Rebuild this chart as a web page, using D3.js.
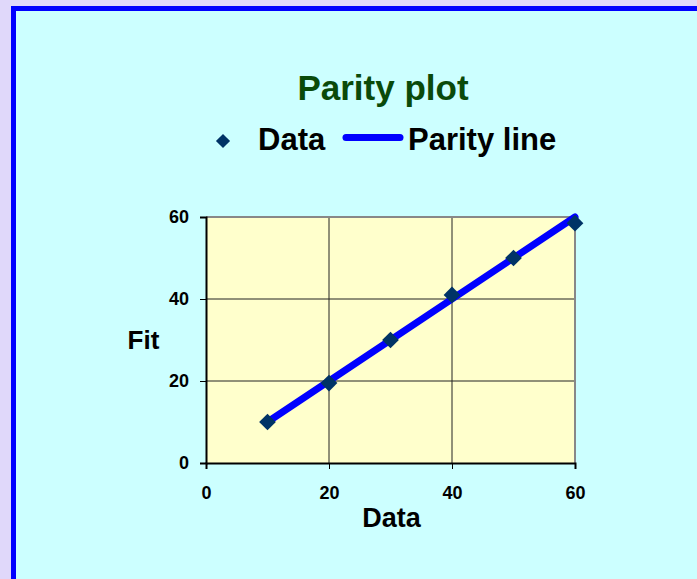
<!DOCTYPE html>
<html>

<head>
    <meta charset="UTF-8" />
    <title>Parity plot</title>
    <style>
        body {
            margin: 0;
            padding: 0;
            background-color: #E0D8FA;
            font-family: 'Liberation Sans', Arial, sans-serif;
            overflow: hidden;
        }
    </style>
</head>

<body>
    <div class="container"></div>

    <script src="https://cdnjs.cloudflare.com/ajax/libs/d3/7.8.5/d3.min.js"></script>
    <script>
        const w = 697;
        const h = 579;

        // data
        const dataX = [10, 20, 30, 40, 50, 60];
        const dataY = [10, 19.5, 30, 41, 50, 58.5];
        const parityX = [10, 60];
        const parityY = [10, 60];
        const xTicks = [0, 20, 40, 60];
        const yTicks = [0, 20, 40, 60];

        const svg = d3.select(".container").append('svg')
            .attr('width', w)
            .attr('height', h)
            .style('display', 'block')

        // blue frame with cyan fill
        svg.append('rect')
            .attr('x', 13.5)
            .attr('y', 8.5)
            .attr('width', w)
            .attr('height', h)
            .attr('fill', '#CCFFFF')
            .attr('stroke', '#0000FF')
            .attr('stroke-width', 5)

        const plot = { left: 206, top: 217, right: 575, bottom: 463 };

        const x = d3.scaleLinear().domain([0, 60]).range([plot.left, plot.right]);
        const y = d3.scaleLinear().domain([0, 60]).range([plot.bottom, plot.top]);

        svg.append('rect')
            .attr('x', plot.left)
            .attr('y', plot.top)
            .attr('width', plot.right - plot.left)
            .attr('height', plot.bottom - plot.top)
            .attr('fill', '#FFFFCC')

        // gridlines
        svg.append('g').selectAll('line')
            .data(xTicks.filter(d => d > 0 && d < 60))
            .join('line')
            .attr('x1', d => x(d)).attr('x2', d => x(d))
            .attr('y1', plot.top).attr('y2', plot.bottom)
            .attr('stroke', '#222').attr('stroke-width', 1)
        svg.append('g').selectAll('line')
            .data(yTicks.filter(d => d > 0 && d < 60))
            .join('line')
            .attr('y1', d => y(d)).attr('y2', d => y(d))
            .attr('x1', plot.left).attr('x2', plot.right)
            .attr('stroke', '#222').attr('stroke-width', 1)

        // gray plot border top/right
        svg.append('path')
            .attr('d', `M${plot.left},${plot.top}H${plot.right}V${plot.bottom}`)
            .attr('fill', 'none')
            .attr('stroke', '#888')
            .attr('stroke-width', 2)

        // axes
        const xAxis = svg.append('g')
            .attr('transform', `translate(0,${plot.bottom})`)
            .call(d3.axisBottom(x).tickValues(xTicks).tickSize(6).tickPadding(17))
        const yAxis = svg.append('g')
            .attr('transform', `translate(${plot.left},0)`)
            .call(d3.axisLeft(y).tickValues(yTicks).tickSize(6).tickPadding(11))

        for (const ax of [xAxis, yAxis]) {
            ax.select('.domain').attr('stroke', '#000').attr('stroke-width', 2)
            ax.selectAll('.tick line').attr('stroke', '#000').attr('stroke-width', 1)
            ax.selectAll('.tick text')
                .attr('fill', '#000')
                .style('font-family', "'Liberation Sans', Arial, sans-serif")
                .style('font-size', '18px')
                .style('font-weight', 'bold')
        }

        // parity line
        const lineGen = d3.line()
            .x((d, i) => x(parityX[i]))
            .y((d, i) => y(parityY[i]))

        svg.append('path')
            .attr('d', lineGen(parityX))
            .attr('stroke', '#0000FF')
            .attr('stroke-width', 7)
            .attr('stroke-linecap', 'round')
            .attr('fill', 'none')

        // data diamonds
        const diamond = d3.symbol().type(d3.symbolSquare).size(140);
        svg.append('g').selectAll('path')
            .data(dataX)
            .join('path')
            .attr('d', diamond)
            .attr('transform', (d, i) => `translate(${x(d)},${y(dataY[i])}) rotate(45)`)
            .attr('fill', '#003366')

        // titles
        svg.append('text')
            .attr('x', 383).attr('y', 100)
            .attr('text-anchor', 'middle')
            .attr('fill', '#0A4A0A')
            .style('font-size', '35px')
            .style('font-weight', 'bold')
            .text('Parity plot')

        svg.append('text')
            .attr('x', 391.5).attr('y', 527)
            .attr('text-anchor', 'middle')
            .style('font-size', '27px')
            .style('font-weight', 'bold')
            .text('Data')

        svg.append('text')
            .attr('x', 143.5).attr('y', 349)
            .attr('text-anchor', 'middle')
            .style('font-size', '26px')
            .style('font-weight', 'bold')
            .text('Fit')

        // legend
        const lg = svg.append('g');
        lg.append('path')
            .attr('d', d3.symbol().type(d3.symbolSquare).size(100))
            .attr('transform', 'translate(223,141) rotate(45)')
            .attr('fill', '#003366')
        lg.append('text')
            .attr('x', 258).attr('y', 150)
            .style('font-size', '31px')
            .style('font-weight', 'bold')
            .text('Data')
        lg.append('line')
            .attr('x1', 346).attr('x2', 400)
            .attr('y1', 137.5).attr('y2', 137.5)
            .attr('stroke', '#0000FF')
            .attr('stroke-width', 7)
            .attr('stroke-linecap', 'round')
        lg.append('text')
            .attr('x', 408).attr('y', 150)
            .style('font-size', '31px')
            .style('font-weight', 'bold')
            .text('Parity line')
    </script>
</body>

</html>
